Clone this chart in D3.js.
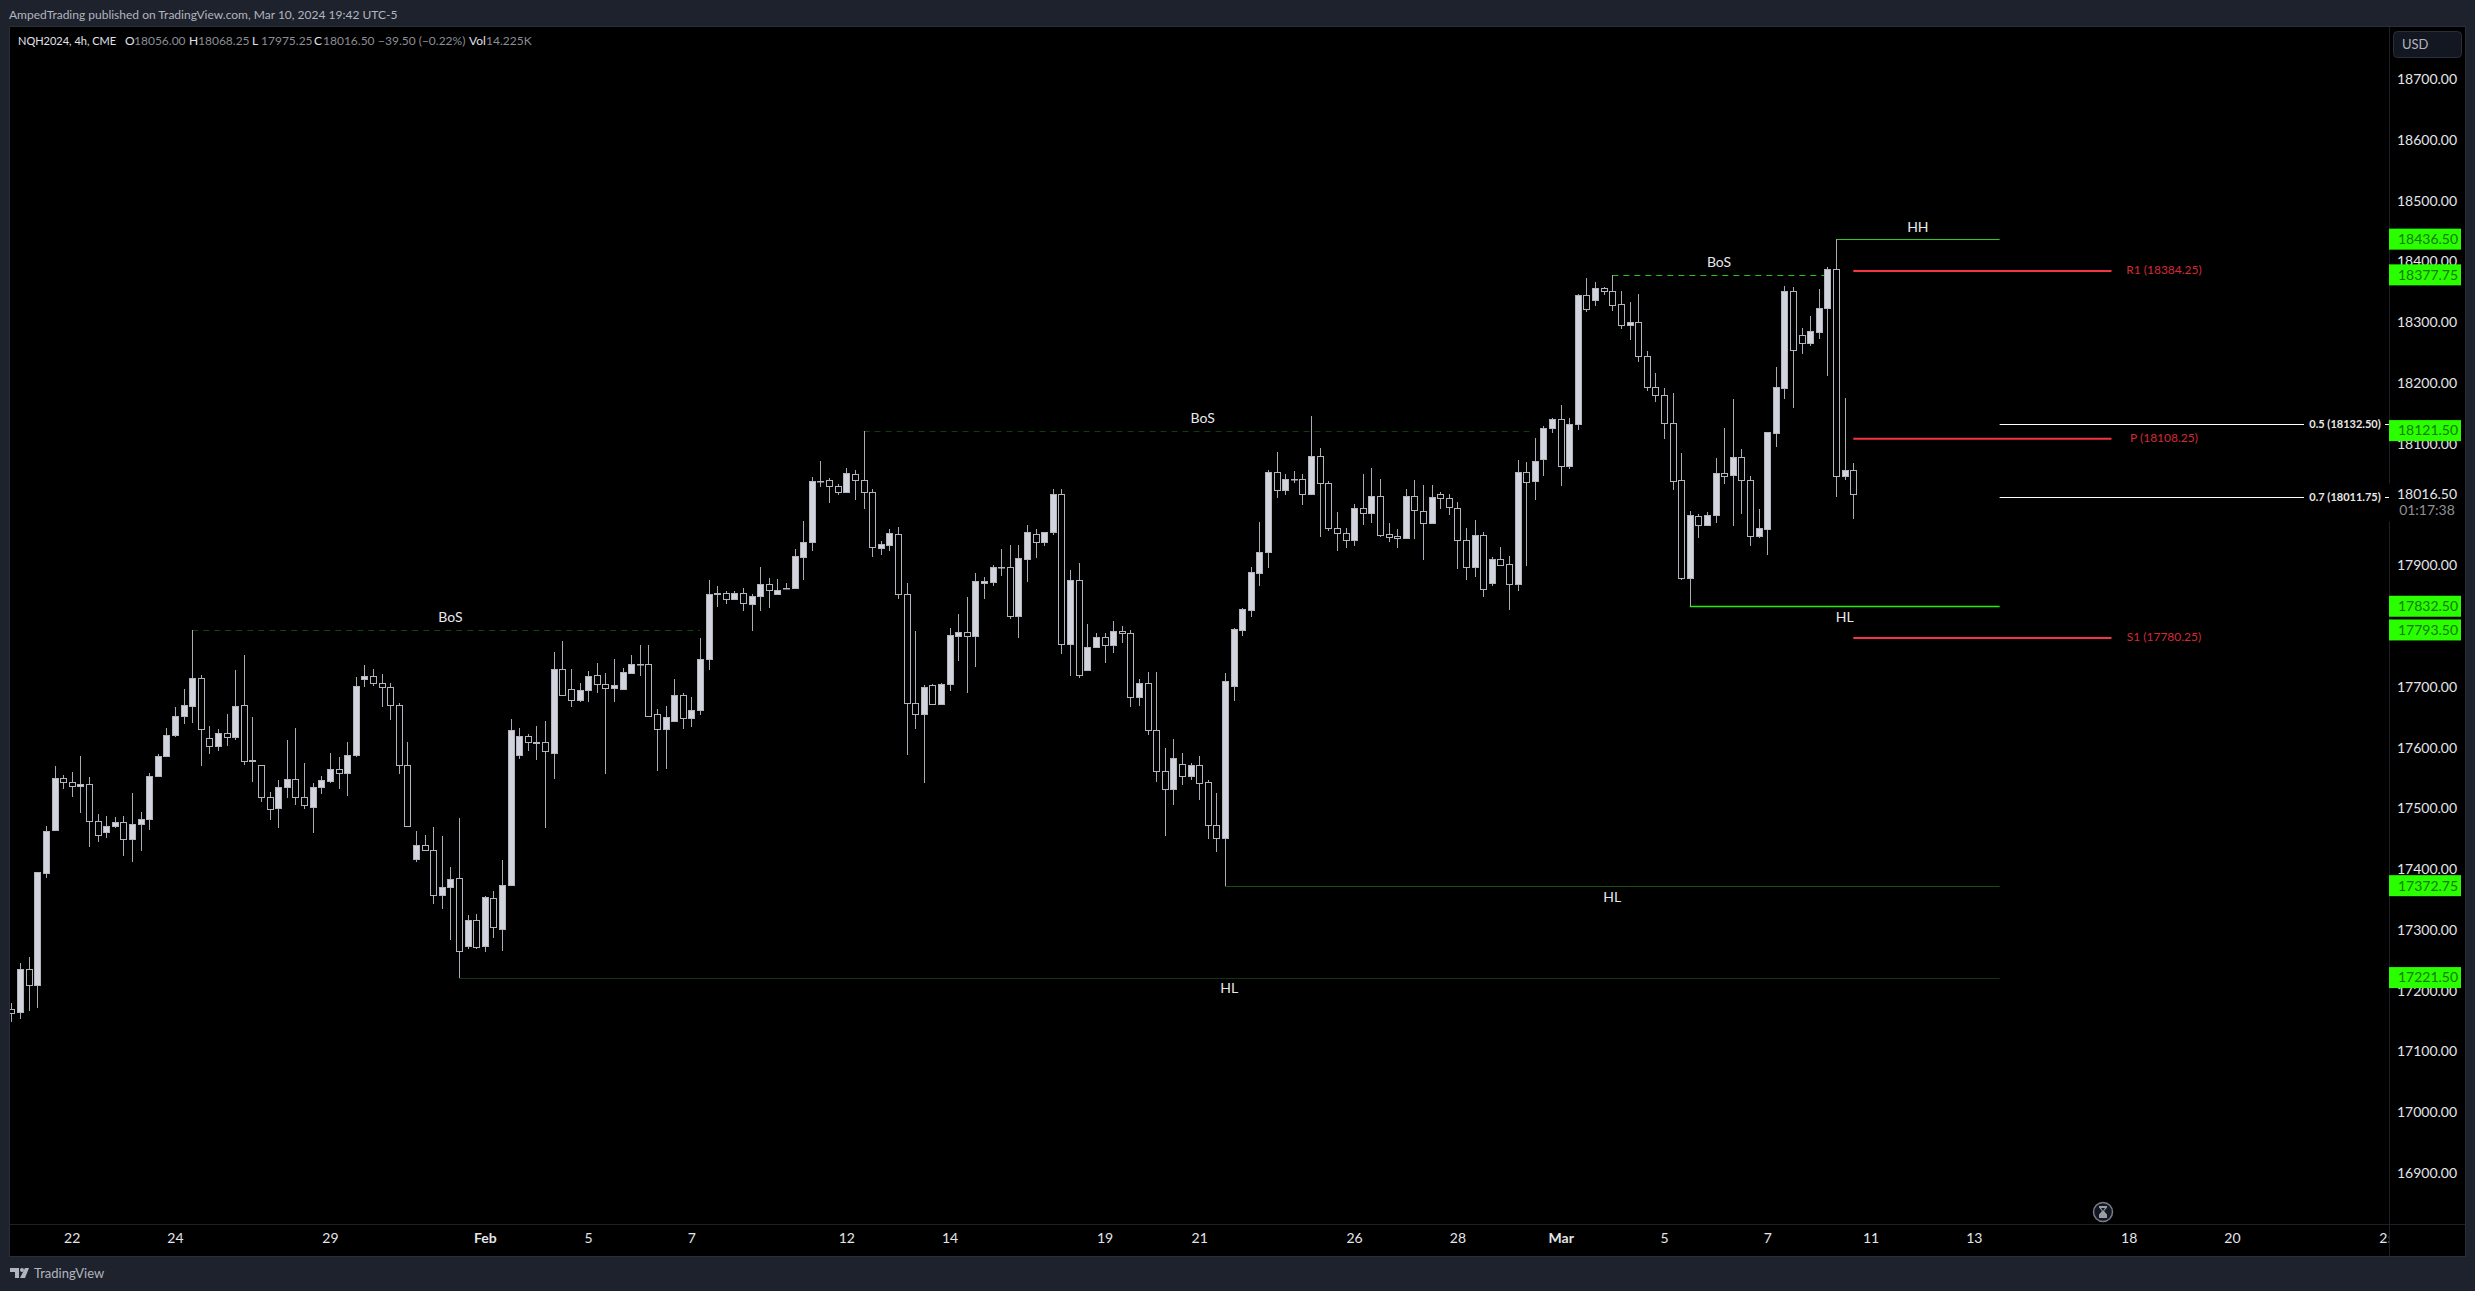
<!DOCTYPE html>
<html lang="en">
<head>
<meta charset="UTF-8">
<title>NQH2024, 4h, CME</title>
<script src="https://d3js.org/d3.v7.min.js"></script>
<style>
    html, body { margin: 0; padding: 0; background: #1e222d; }
    svg { display: block; }
    text { font-family: Lato, "Open Sans", sans-serif; }
    .axis path, .axis line { display: none; }
    .axis text { font-family: Lato, sans-serif; font-size: 14px; fill: #e3e5ea; }
</style>
</head>
<body>
<svg width="2475" height="1291"></svg>
<script>
// OHLC, 4h bars
var opens = [
    17170,17165,17235,17210,17394,17465,17550,17543,17536,17540,
    17479,17461,17471,17477,17449,17474,17482,17554,17586,17620,
    17652,17669,17714,17615,17602,17624,17617,17670,17578,17571,
    17518,17500,17535,17548,17518,17502,17535,17545,17564,17558,
    17587,17713,17717,17706,17699,17670,17571,17416,17439,17431,
    17357,17370,17385,17273,17316,17273,17352,17301,17374,17587,
    17619,17607,17609,17591,17729,17696,17678,17694,17719,17704,
    17698,17697,17723,17737,17737,17655,17630,17644,17686,17648,
    17661,17745,17852,17855,17845,17855,17837,17850,17869,17853,
    17862,17862,17914,17939,18038,18040,18031,18021,18050,18040,
    18020,17928,17934,17951,17852,17674,17656,17703,17672,17704,
    17784,17790,17784,17870,17873,17897,17897,17816,17911,17951,
    17939,17954,18017,17771,17875,17728,17766,17782,17768,17791,
    17788,17683,17706,17629,17562,17531,17573,17554,17571,17543,
    17472,17452,17702,17794,17827,17888,17921,18053,18023,18042,
    18042,18018,18079,18036,17961,17953,17941,17994,17986,18014,
    17951,17948,17944,18014,17989,17970,18017,18010,17994,17941,
    17897,17949,17870,17910,17902,17869,18053,18038,18074,18125,
    18140,18064,18133,18344,18336,18356,18351,18329,18296,18301,
    18245,18193,18180,18134,18040,17879,17981,17967,17982,18051,
    18048,18078,18041,17948,17959,18117,18191,18352,18278,18265,
    18283,18323,18387,18046,18056
];
var highs = [
    17179,17245,17255,17395,17471,17570,17555,17560,17586,17551,
    17491,17488,17485,17487,17525,17494,17558,17589,17632,17667,
    17697,17793.5,17719,17636,17631,17655,17728,17752,17650,17572,
    17527,17546,17613,17632,17575,17542,17553,17591,17584,17609,
    17716,17736,17729,17721,17706,17673,17609,17462,17456,17469,
    17454,17403,17484,17324,17326,17356,17364,17415,17647,17632,
    17622,17635,17643,17757,17775,17729,17706,17726,17739,17722,
    17745,17731,17752,17768,17768,17663,17668,17712,17689,17684,
    17780,17875,17865,17857,17857,17862,17852,17897,17879,17878,
    17871,17926,17972,18045,18072,18043,18034,18060,18057,18121.5,
    18025,17940,17959,17963,17871,17791,17703,17704,17706,17796,
    17820,17848,17887,17881,17901,17926,17933,17933,17967,17959,
    17955,18025,18025,17892,17903,17803,17788,17788,17808,17800,
    17793,17712,17724,17724,17599,17614,17591,17574,17586,17547,
    17525,17722,17796,17829,17897,17971,18056,18086,18050,18055,
    18050,18146,18093,18038,17987,17961,18000,18050,18060,18042,
    17969,17959,18025,18040,18032,18032,18020,18017,18004,17961,
    17974,17954,17913,17930,17915,18073,18070,18109,18129,18142,
    18163,18143,18347,18372,18366,18357,18377.75,18352,18333,18346,
    18252,18217,18191,18183,18084,17989,17985,17987,18076,18125,
    18173,18092,18046,17992,18120,18226,18359,18357,18290,18310,
    18354,18390,18436.5,18175,18068.25
];
var lows = [
    17149,17154,17167,17171,17386,17465,17531,17519,17493,17436,
    17444,17452,17467,17422,17411,17429,17465,17554,17586,17618,
    17638,17640,17570,17590,17595,17603,17612,17572,17543,17510,
    17480,17467,17517,17505,17499,17459,17524,17541,17531,17521,
    17584,17700,17702,17666,17646,17556,17469,17411,17431,17343,
    17335,17284,17221.5,17268,17268,17264,17286,17266,17372,17581,
    17595,17580,17467,17549,17686,17666,17675,17675,17689,17556,
    17675,17694,17723,17717,17652,17562,17564,17644,17631,17633,
    17654,17727,17832,17837,17843,17824,17792,17825,17829,17853,
    17862,17862,17876,17924,18029,18003,18016,18021,18008,17993,
    17913,17917,17924,17844,17588,17631,17542,17671,17672,17693,
    17743,17690,17732,17845,17866,17883,17812,17780,17873,17912,
    17932,17949,17754,17718,17715,17727,17766,17739,17756,17772,
    17667,17669,17620,17544,17454,17506,17539,17547,17514,17449,
    17428,17372.75,17677,17784,17814,17865,17896,18010,18016,18036,
    17999,18015,17947,17957,17923,17929,17931,17966,17969,17946,
    17938,17929,17944,17943,17909,17970,17993,17983,17893,17876,
    17881,17847,17866,17899,17827,17858,17899,18008,18046,18117,
    18031,18059,18123,18316,18327,18344,18319,18289,18271,18235,
    18186,18168,18108,18024,17876,17832.5,17944,17964,17970,18034,
    17964,17985,17932,17944,17916,18095,18174,18159,18248,18261,
    18273,18212,18013,18040,17975.25
];
var closes = [
    17163,17235,17209,17395,17462,17550,17543,17536,17540,17479,
    17456,17471,17477,17449,17474,17482,17553,17586,17620,17652,
    17670,17714,17630,17602,17624,17617,17668,17578,17580,17518,
    17499,17535,17548,17518,17505,17535,17546,17564,17558,17587,
    17701,17717,17706,17699,17670,17571,17471,17439,17431,17357,
    17370,17383,17265,17316,17272,17354,17305,17374,17629,17619,
    17609,17609,17594,17729,17686,17678,17694,17717,17704,17698,
    17703,17724,17737,17737,17652,17630,17650,17686,17648,17661,
    17745,17852,17855,17845,17854,17838,17850,17869,17860,17860,
    17862,17915,17939,18038,18038,18031,18021,18051,18040,18020,
    17930,17935,17953,17852,17674,17656,17699,17672,17704,17785,
    17790,17784,17874,17874,17897,17897,17816,17912,17954,17939,
    17954,18017,17771,17875,17720,17765,17782,17768,17791,17788,
    17683,17706,17629,17562,17531,17583,17554,17571,17542,17472,
    17452,17709,17795,17828,17889,17921,18053,18023,18042,18042,
    18018,18079,18036,17961,17953,17941,17994,17986,18014,17949,
    17947,17944,18014,17991,17969,18012,18010,17995,17941,17897,
    17949,17861,17910,17901,17869,18053,18037,18071,18125,18140,
    18064,18132,18344,18321,18356,18351,18328,18296,18301,18244,
    18193,18180,18134,18038,17879,17982,17967,17982,18051,18046,
    18078,18040,17948,17961,18119,18193,18352,18254,18265,18285,
    18323,18387,18046,18056,18016.5
];

// axes. 18000 and 17800 sit under the price labels and do not show
var priceTicks = [18700,18600,18500,18400,18300,18200,18100,17900,17700,17600,17500,17400,17300,17200,17100,17000,16900];
var dateBars = [7,19,37,55,67,79,97,109,127,138,156,168,180,192,204,216,228,246,258,276];
var dateLabels = ["22","24","29","Feb","5","7","12","14","19","21","26","28","Mar","5","7","11","13","18","20","25"];

// drawings: price level, first bar, last bar
var bosPrices = [17793.5, 18121.5, 18377.75];
var bosFrom = [21, 99, 186];
var bosTo = [80, 177, 211];
var bosTagBars = [51, 138.4, 198.4];
var swingNames = ["HH", "HL", "HL", "HL"];
var swingPrices = [18436.5, 17832.5, 17372.75, 17221.5];
var swingFrom = [212, 195, 141, 52];
var swingTo = [231, 231, 231, 231];
var pivotNames = ["R1", "P", "S1"];
var pivotPrices = [18384.25, 18108.25, 17780.25];
var pivotFrom = 214, pivotTo = 244;
var fibNames = ["0.5", "0.7"];
var fibPrices = [18132.5, 18011.75];
var fibFrom = 231;
var priceLabels = [18436.5, 18377.75, 18121.5, 17832.5, 17793.5, 17372.75, 17221.5];
var lastPrice = 18016.5, countdown = "01:17:38";

var bosColors = ["#0f4a0a", "#0e3f09", "#26c414"];
var swingColors = ["#2ecb1c", "#25ee08", "#17530f", "#10360b"];

var svg = d3.select("svg");
var paneLeft = 10, paneRight = 2389, paneTop = 27, paneBottom = 1224, frameRight = 2465, frameBottom = 1256;

var x = d3.scaleLinear().domain([0, 214]).range([11.47, 1853.3]);
var y = d3.scaleLinear().domain([18700, 16900]).range([79, 1173]);
var fmt = d3.format(".2f");

function X(i) { return Math.round(x(i)); }
function Y(p) { return Math.round(y(p)); }

// frame and pane
svg.append("rect").attr("width", 2475).attr("height", 1291).attr("fill", "#1e222d");
svg.append("rect").attr("x", paneLeft - 0.5).attr("y", paneTop - 0.5)
    .attr("width", frameRight - paneLeft + 1).attr("height", frameBottom - paneTop + 1)
    .attr("fill", "#000").attr("stroke", "#2a2e39");

var defs = svg.append("defs");
defs.append("clipPath").attr("id", "pane").append("rect")
    .attr("x", paneLeft).attr("y", paneTop).attr("width", paneRight - paneLeft).attr("height", paneBottom - paneTop);
defs.append("clipPath").attr("id", "timeAxis").append("rect")
    .attr("x", paneLeft).attr("y", paneBottom).attr("width", paneRight - paneLeft).attr("height", frameBottom - paneBottom);

// separators
svg.append("rect").attr("x", paneRight).attr("y", paneTop).attr("width", 1).attr("height", frameBottom - paneTop).attr("fill", "#1d2026");
svg.append("rect").attr("x", paneLeft).attr("y", paneBottom).attr("width", frameRight - paneLeft).attr("height", 1).attr("fill", "#1d2026");

var chart = svg.append("g").attr("clip-path", "url(#pane)");

// dashed BoS lines
chart.selectAll(".bos").data(bosPrices).enter().append("line")
    .attr("class", "bos")
    .attr("x1", function(d, i) { return x(bosFrom[i]); })
    .attr("x2", function(d, i) { return x(bosTo[i]); })
    .attr("y1", function(d) { return Y(d) + 0.5; })
    .attr("y2", function(d) { return Y(d) + 0.5; })
    .attr("stroke", function(d, i) { return bosColors[i]; })
    .attr("stroke-dasharray", "6 5");

// swing lines
chart.selectAll(".swing").data(swingPrices).enter().append("line")
    .attr("class", "swing")
    .attr("x1", function(d, i) { return x(swingFrom[i]); })
    .attr("x2", function(d, i) { return x(swingTo[i]); })
    .attr("y1", function(d) { return Y(d) + 0.5; })
    .attr("y2", function(d) { return Y(d) + 0.5; })
    .attr("stroke", function(d, i) { return swingColors[i]; })
    .attr("stroke-width", function(d, i) { return i == 1 ? 1.5 : 1; });

// candles
var bars = d3.range(opens.length);
chart.selectAll(".wick").data(bars).enter().append("rect")
    .attr("class", "wick")
    .attr("x", function(i) { return X(i); })
    .attr("y", function(i) { return Y(highs[i]); })
    .attr("width", 1)
    .attr("height", function(i) { return Math.max(1, Y(lows[i]) - Y(highs[i])); })
    .attr("fill", "#a9acb4");

chart.selectAll(".body").data(bars).enter().append("rect")
    .attr("class", "body")
    .attr("x", function(i) { return X(i) - 2.5; })
    .attr("y", function(i) { return Y(Math.max(opens[i], closes[i])) + 0.5; })
    .attr("width", 6)
    .attr("height", function(i) { return Math.max(0.5, Math.abs(Y(opens[i]) - Y(closes[i]))); })
    .attr("fill", function(i) { return closes[i] >= opens[i] ? "#d1d4dc" : "#000"; })
    .attr("stroke", "#b2b5be");

// pivot levels
var pivots = svg.append("g");
pivots.selectAll("line").data(pivotPrices).enter().append("line")
    .attr("x1", x(pivotFrom)).attr("x2", x(pivotTo))
    .attr("y1", function(d) { return y(d); })
    .attr("y2", function(d) { return y(d); })
    .attr("stroke", "#f23645").attr("stroke-width", 2);
pivots.selectAll("text").data(pivotPrices).enter().append("text")
    .attr("x", 2164)
    .attr("y", function(d) { return y(d) - 1; })
    .attr("dy", "0.33em")
    .attr("text-anchor", "middle")
    .attr("font-size", 12)
    .attr("fill", "#d32a38")
    .text(function(d, i) { return pivotNames[i] + " (" + fmt(d) + ")"; });

// fib levels, the label sits in the line
var fibs = svg.append("g");
fibPrices.forEach(function(p, i) {
    fibs.append("line").attr("x1", x(fibFrom)).attr("x2", 2304).attr("y1", Y(p) + 0.5).attr("y2", Y(p) + 0.5).attr("stroke", "#fff");
    fibs.append("line").attr("x1", 2385).attr("x2", paneRight).attr("y1", Y(p) + 0.5).attr("y2", Y(p) + 0.5).attr("stroke", "#fff");
    fibs.append("text").attr("x", 2345).attr("y", y(p)).attr("dy", "0.33em")
        .attr("text-anchor", "middle").attr("font-size", 11).attr("font-weight", 700).attr("fill", "#e8e8e8")
        .text(fibNames[i] + " (" + fmt(p) + ")");
});

// BoS, HH, HL labels
var tags = svg.append("g").attr("font-size", 14).attr("fill", "#e8e9ec").attr("text-anchor", "middle");
tags.selectAll(".bosTag").data(bosPrices).enter().append("text")
    .attr("x", function(d, i) { return x(bosTagBars[i]); })
    .attr("y", function(d) { return y(d) - 12.5; })
    .attr("dy", "0.35em")
    .text("BoS");
tags.selectAll(".swingTag").data(swingPrices).enter().append("text")
    .attr("x", function(d, i) { return (x(swingFrom[i]) + x(swingTo[i])) / 2; })
    .attr("y", function(d, i) { return y(d) + (swingNames[i] == "HH" ? -12.5 : 11); })
    .attr("dy", "0.35em")
    .text(function(d, i) { return swingNames[i]; });

// price axis
var yAxis = d3.axisRight(y).tickValues(priceTicks).tickFormat(fmt).tickSize(0).tickPadding(0);
svg.append("g").attr("class", "axis").attr("transform", "translate(2427,0)").call(yAxis)
    .selectAll("text").attr("text-anchor", "middle").attr("x", 0);

// time axis
var xAxis = d3.axisBottom(x).tickValues(dateBars).tickSize(0).tickPadding(0)
    .tickFormat(function(d, i) { return dateLabels[i]; });
var xg = svg.append("g").attr("clip-path", "url(#timeAxis)").append("g")
    .attr("class", "axis").attr("transform", "translate(0,1233)").call(xAxis);
xg.selectAll("text").style("font-weight", function(d, i) { return isNaN(+dateLabels[i]) ? 700 : 400; });

// current price box covers the axis line
svg.append("rect").attr("x", paneRight).attr("y", y(lastPrice) - 11).attr("width", 70).attr("height", 38).attr("fill", "#000");
svg.append("text").attr("x", 2427).attr("y", y(lastPrice)).attr("dy", "0.35em").attr("text-anchor", "middle")
    .attr("font-size", 14).attr("fill", "#e3e5ea").text(fmt(lastPrice));
svg.append("text").attr("x", 2427).attr("y", y(lastPrice) + 16).attr("dy", "0.35em").attr("text-anchor", "middle")
    .attr("font-size", 14).attr("fill", "#8f9197").text(countdown);

// green price labels
var labels = svg.append("g");
labels.selectAll("rect").data(priceLabels).enter().append("rect")
    .attr("x", paneRight).attr("y", function(d) { return y(d) - 10.5; })
    .attr("width", 72).attr("height", 21).attr("fill", "#2aff00");
labels.selectAll("text").data(priceLabels).enter().append("text")
    .attr("x", 2428).attr("y", function(d) { return y(d); }).attr("dy", "0.35em")
    .attr("text-anchor", "middle").attr("font-size", 14).attr("fill", "#157a0a")
    .text(fmt);

// header
svg.append("text").attr("x", 9).attr("y", 19).attr("font-size", 12).attr("fill", "#b2b5be")
    .text("AmpedTrading published on TradingView.com, Mar 10, 2024 19:42 UTC-5");

var legendX = [18, 125, 134, 189, 198, 252, 261, 314, 323, 378, 469, 486];
var legendText = ["NQH2024, 4h, CME", "O", "18056.00", "H", "18068.25", "L", "17975.25", "C", "18016.50", "\u221239.50 (\u22120.22%)", "Vol", "14.225K"];
var legendLabel = [true, true, false, true, false, true, false, true, false, false, true, false];
svg.append("g").selectAll("text").data(legendText).enter().append("text")
    .attr("x", function(d, i) { return legendX[i]; })
    .attr("y", 45)
    .attr("font-size", function(d, i) { return i == 0 ? 11 : 12; })
    .attr("fill", function(d, i) { return legendLabel[i] ? "#e0e3eb" : "#8b8e96"; })
    .text(function(d) { return d; });

// currency box
svg.append("rect").attr("x", 2393.5).attr("y", 31.5).attr("width", 68).attr("height", 26).attr("rx", 4)
    .attr("fill", "#131722").attr("stroke", "#2a2e39");
svg.append("text").attr("x", 2402).attr("y", 49).attr("font-size", 13).attr("fill", "#b2b5be").text("USD");

// watermark logo
var logo = svg.append("g").attr("fill", "#b2b5be");
logo.append("path").attr("d", "M10 1268h9v10h-4v-6h-5z");
logo.append("circle").attr("cx", 22).attr("cy", 1270).attr("r", 2);
logo.append("path").attr("d", "M25 1268h4l-4 10h-5z");
svg.append("text").attr("x", 34).attr("y", 1278).attr("font-size", 13).attr("fill", "#b2b5be").text("TradingView");

// hourglass badge
var badge = svg.append("g").attr("transform", "translate(2103,1212)");
badge.append("circle").attr("r", 9.5).attr("fill", "#131722").attr("stroke", "#787b86").attr("stroke-width", 1.5);
badge.append("path").attr("d", "M-4 -6h8v1.5l-3 3.5 3 3.5v3.5h-8v-3.5l3-3.5-3-3.5z").attr("fill", "#9a9da6");
badge.append("path").attr("d", "M-2 -4h4l-2 3z").attr("fill", "#131722");
</script>
</body>
</html>
